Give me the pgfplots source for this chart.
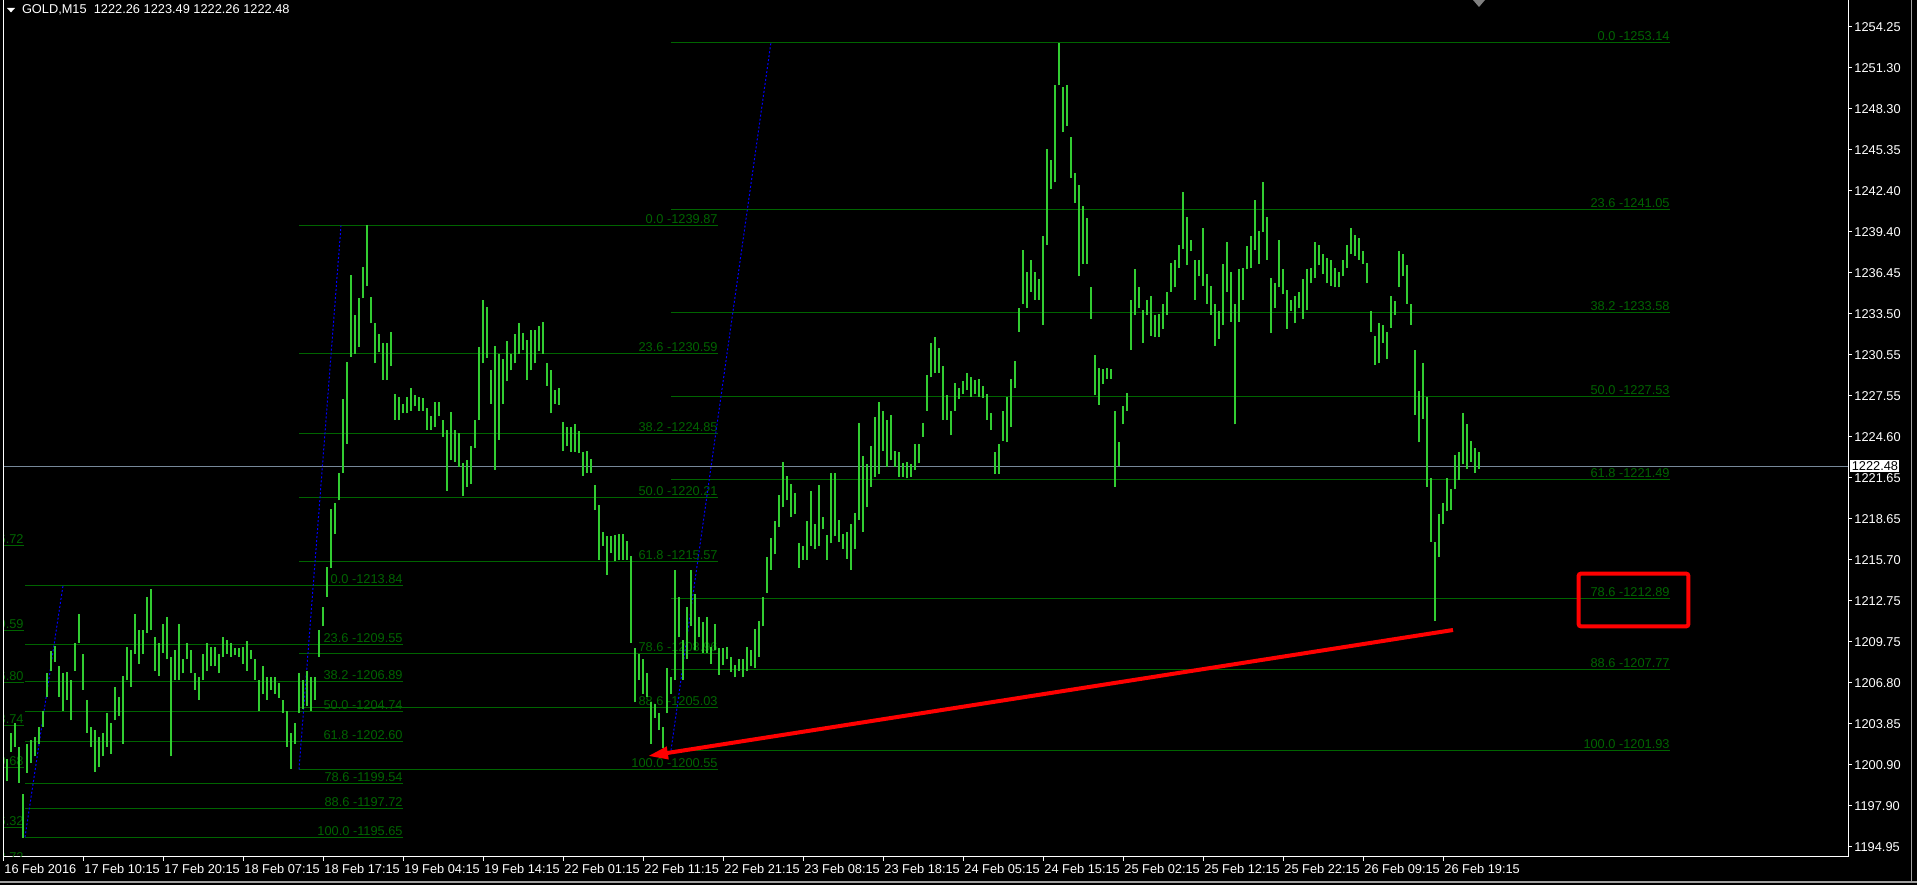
\documentclass[border=0pt]{standalone}
\usepackage{pgfplots}
\pgfplotsset{compat=1.18}
\usepackage{pgfplotstable}
\usepackage{fontspec}
\setmainfont{Liberation Sans}
\usetikzlibrary{arrows.meta}
\definecolor{barcol}{RGB}{50,205,50}
\definecolor{fibcol}{RGB}{0,100,0}
\definecolor{curcol}{RGB}{119,136,153}
\definecolor{dotblue}{RGB}{0,0,255}
\definecolor{framegray}{RGB}{160,160,160}
\newcommand\mt{\fontsize{6.4}{7.7}\selectfont}

\pgfplotstableread{
X lo hi
3 1199.5 1201.0
7 1199.7 1201.3
11 1201.8 1203.2
15 1202.2 1203.9
19 1199.6 1202.2
23 1195.6 1198.8
27 1200.3 1202.4
31 1201.0 1202.7
35 1201.5 1202.9
39 1202.4 1203.6
43 1203.6 1204.8
47 1205.8 1207.5
51 1207.7 1209.1
55 1208.3 1209.5
59 1205.8 1208.0
63 1204.8 1207.5
67 1205.6 1207.6
71 1204.1 1207.0
75 1207.7 1209.7
79 1209.7 1211.8
83 1206.3 1208.9
87 1203.2 1205.6
91 1202.2 1203.6
95 1200.4 1203.4
99 1200.7 1202.9
103 1201.5 1203.2
107 1202.2 1204.6
111 1201.7 1203.9
115 1204.1 1206.5
119 1204.4 1205.8
123 1202.4 1207.3
127 1207.0 1209.4
131 1206.5 1209.2
135 1208.9 1211.8
139 1208.2 1210.6
143 1208.9 1210.6
147 1210.4 1213.0
151 1210.6 1213.6
155 1207.7 1210.1
159 1207.3 1209.7
163 1209.0 1211.1
167 1208.5 1211.6
171 1201.5 1208.7
175 1207.0 1209.2
179 1207.0 1211.1
183 1207.5 1208.5
187 1208.5 1209.7
191 1207.5 1209.2
195 1206.3 1207.5
199 1205.6 1207.2
203 1207.0 1208.9
207 1207.7 1209.7
211 1208.0 1209.4
215 1208.0 1209.4
219 1207.5 1208.9
223 1208.7 1210.1
227 1208.9 1209.9
231 1208.7 1209.7
235 1208.8 1209.3
239 1208.7 1209.3
243 1208.2 1209.4
247 1207.7 1209.8
251 1208.5 1209.2
255 1207.0 1208.5
259 1204.8 1207.0
263 1206.0 1208.0
267 1205.6 1207.2
271 1206.3 1207.2
275 1206.0 1207.2
279 1205.7 1206.8
283 1204.6 1205.6
287 1202.2 1204.8
291 1200.6 1203.2
295 1202.4 1203.9
299 1204.6 1207.5
303 1204.9 1207.0
307 1205.1 1207.7
311 1204.8 1207.2
315 1205.6 1207.2
319 1208.7 1210.6
323 1210.9 1212.3
327 1213.0 1215.2
331 1215.1 1219.4
335 1217.6 1219.8
339 1220.0 1222.0
343 1222.0 1227.3
347 1224.1 1230.0
351 1230.4 1236.3
355 1230.6 1233.4
359 1231.1 1234.6
363 1234.6 1236.9
367 1235.5 1239.9
371 1232.8 1234.7
375 1229.9 1232.8
379 1230.7 1232.0
383 1228.7 1231.4
387 1228.7 1231.4
391 1229.7 1232.2
395 1225.8 1227.7
399 1225.8 1227.5
403 1226.3 1227.0
407 1226.3 1227.5
411 1226.5 1228.1
415 1226.8 1227.6
419 1226.5 1227.5
423 1226.5 1227.4
427 1225.1 1226.7
431 1225.1 1226.1
435 1225.3 1227.1
439 1226.1 1227.1
443 1224.6 1225.8
447 1220.7 1225.1
451 1222.9 1226.4
455 1222.8 1225.1
459 1222.4 1224.9
463 1220.3 1222.7
467 1221.0 1222.9
471 1221.2 1223.9
475 1223.8 1225.8
479 1225.8 1231.1
483 1229.9 1234.5
487 1230.3 1234.0
491 1227.0 1229.4
495 1222.2 1231.2
499 1224.4 1230.6
503 1227.0 1230.2
507 1228.6 1231.5
511 1229.4 1230.6
515 1229.9 1232.0
519 1230.6 1232.8
523 1230.9 1232.1
527 1228.7 1231.6
531 1229.4 1232.3
535 1229.9 1232.3
539 1230.8 1232.6
543 1230.6 1232.9
547 1228.3 1229.9
551 1226.3 1229.4
555 1227.0 1228.0
559 1226.9 1228.1
563 1223.6 1225.7
567 1223.9 1225.3
571 1223.5 1225.3
575 1223.5 1225.5
579 1223.4 1225.0
583 1221.8 1223.5
587 1222.0 1223.6
591 1222.0 1223.0
595 1219.3 1221.1
599 1215.7 1219.7
603 1216.7 1217.7
607 1214.6 1217.4
611 1216.2 1217.4
615 1215.6 1217.5
619 1215.7 1217.6
623 1215.7 1217.6
627 1215.7 1217.1
631 1209.7 1216.0
635 1205.4 1209.3
639 1207.0 1208.9
643 1206.0 1208.5
647 1205.8 1207.5
651 1202.4 1205.4
655 1204.3 1205.3
659 1203.4 1204.6
663 1202.1 1203.6
667 1204.6 1207.9
671 1206.0 1207.2
675 1207.0 1215.0
679 1210.1 1213.0
683 1207.0 1209.9
687 1208.5 1212.3
691 1210.9 1215.0
695 1209.2 1213.2
699 1210.1 1211.6
703 1209.0 1211.2
707 1209.0 1211.6
711 1208.2 1209.4
715 1209.2 1211.1
719 1207.4 1209.3
723 1208.1 1209.3
727 1208.5 1209.4
731 1207.6 1208.7
735 1207.2 1208.1
739 1207.7 1208.5
743 1207.2 1208.5
747 1207.7 1209.4
751 1208.0 1209.2
755 1207.9 1210.7
759 1208.7 1211.3
763 1210.9 1213.0
767 1213.3 1215.9
771 1215.0 1217.3
775 1216.1 1218.5
779 1218.1 1220.4
783 1219.5 1222.8
787 1220.0 1221.8
791 1218.8 1221.2
795 1219.0 1220.5
799 1215.1 1216.9
803 1215.7 1216.7
807 1215.7 1218.5
811 1216.7 1220.7
815 1216.5 1218.3
819 1216.7 1221.1
823 1217.9 1218.8
827 1215.7 1217.5
831 1216.9 1222.0
835 1217.4 1222.0
839 1217.0 1218.6
843 1216.5 1217.6
847 1215.8 1217.7
851 1215.0 1218.3
855 1216.5 1219.1
859 1218.6 1225.6
863 1217.7 1223.2
867 1219.5 1222.6
871 1221.0 1223.9
875 1221.7 1226.0
879 1221.9 1227.1
883 1223.6 1226.5
887 1222.4 1225.8
891 1222.9 1226.2
895 1222.4 1223.6
899 1221.7 1223.5
903 1221.7 1222.7
907 1221.6 1222.8
911 1221.7 1222.6
915 1222.2 1224.1
919 1222.7 1224.1
923 1224.6 1225.6
927 1226.5 1229.1
931 1228.9 1231.4
935 1229.2 1231.8
939 1229.2 1231.0
943 1225.8 1229.7
947 1225.8 1227.6
951 1224.7 1226.5
955 1226.5 1228.5
959 1227.3 1228.1
963 1227.7 1228.6
967 1228.0 1229.2
971 1227.5 1228.9
975 1227.7 1228.7
979 1227.5 1228.8
983 1227.4 1228.3
987 1225.8 1227.7
991 1225.1 1226.3
995 1221.9 1223.5
999 1221.9 1224.1
1003 1224.3 1226.5
1007 1224.2 1227.5
1011 1225.3 1228.8
1015 1228.1 1230.1
1019 1232.2 1233.9
1023 1234.2 1238.1
1027 1233.9 1236.5
1031 1235.1 1237.4
1035 1234.5 1236.5
1039 1234.5 1236.0
1043 1232.7 1239.1
1047 1238.5 1245.4
1051 1242.5 1244.6
1055 1243.0 1250.0
1059 1250.0 1253.1
1063 1246.6 1249.9
1067 1247.1 1250.0
1071 1243.3 1246.3
1075 1241.5 1243.7
1079 1236.2 1242.8
1083 1237.1 1241.3
1087 1237.1 1240.4
1091 1233.1 1235.4
1095 1227.6 1230.5
1099 1226.9 1229.6
1103 1228.4 1229.5
1107 1228.8 1229.6
1111 1228.8 1229.5
1115 1221.0 1226.5
1119 1222.5 1224.2
1123 1225.5 1226.8
1127 1226.5 1227.8
1131 1230.9 1234.5
1135 1233.4 1236.7
1139 1233.9 1235.4
1143 1231.4 1233.8
1147 1233.4 1234.5
1151 1231.9 1234.8
1155 1231.8 1233.4
1159 1231.8 1233.5
1163 1232.4 1234.2
1167 1233.4 1235.1
1171 1235.1 1237.2
1175 1235.4 1237.4
1179 1236.8 1238.5
1183 1238.2 1242.3
1187 1237.0 1240.5
1191 1238.0 1238.8
1195 1234.5 1237.4
1199 1236.2 1237.4
1203 1235.5 1239.7
1207 1234.2 1236.4
1211 1233.4 1235.5
1215 1231.2 1234.2
1219 1231.7 1233.7
1223 1232.7 1237.1
1227 1235.1 1238.7
1231 1232.9 1236.5
1235 1225.5 1234.2
1239 1232.9 1236.7
1243 1234.5 1236.8
1247 1236.7 1238.4
1251 1236.8 1239.1
1255 1238.1 1241.7
1259 1237.1 1239.5
1263 1239.4 1243.0
1267 1237.4 1240.5
1271 1232.1 1236.1
1275 1233.9 1235.7
1279 1235.4 1238.8
1283 1234.9 1236.7
1287 1232.4 1235.2
1291 1233.7 1234.5
1295 1232.8 1234.8
1299 1233.9 1235.1
1303 1233.1 1236.0
1307 1233.8 1236.7
1311 1235.7 1236.8
1315 1236.1 1238.7
1319 1237.0 1238.5
1323 1236.4 1237.8
1327 1235.7 1237.5
1331 1235.5 1237.4
1335 1235.4 1236.8
1339 1235.4 1236.5
1343 1236.2 1237.4
1347 1236.8 1238.5
1351 1237.8 1239.7
1355 1237.7 1239.2
1359 1237.4 1239.0
1363 1237.1 1238.0
1367 1235.7 1237.2
1371 1232.2 1233.7
1375 1229.8 1231.9
1379 1229.9 1232.8
1383 1231.4 1232.7
1387 1230.2 1232.2
1391 1232.5 1234.8
1395 1233.4 1234.4
1399 1235.4 1238.0
1403 1236.2 1237.8
1407 1234.2 1237.0
1411 1232.7 1234.2
1415 1226.2 1230.9
1419 1224.2 1227.9
1423 1225.9 1229.9
1427 1221.0 1227.5
1431 1217.0 1221.6
1435 1211.3 1217.0
1439 1215.9 1219.0
1443 1218.3 1219.8
1447 1219.2 1221.6
1451 1219.3 1220.8
1455 1220.8 1223.3
1459 1221.5 1223.5
1463 1222.6 1226.3
1467 1222.3 1225.5
1471 1222.8 1224.3
1475 1222.0 1223.8
1479 1222.26 1223.49
}\bars

\newcommand\fib[4]{%
  \addplot[fibcol, line width=0.5pt, forget plot] coordinates {(#1,#3) (#2,#3)};
  \node[anchor=base east, inner sep=0pt, text=fibcol, font=\mt, yshift=1pt] at (axis cs:#2,#3) {#4};
}

\begin{document}
\begin{tikzpicture}
\fill[black] (0,0) rectangle (958.5pt,442.5pt);
\begin{axis}[
  at={(1.5pt,14.15pt)}, anchor=south west,
  scale only axis, width=922.5pt, height=428.35pt,
  xmin=3, xmax=1848, ymin=1194.24, ymax=1256.18,
  axis x line*=bottom, axis y line*=right,
  axis line style={white, line width=0.5pt},
  tick style={white, line width=0.5pt},
  tick align=outside,
  major tick length=2pt,
  xtick={3,83,163,243,323,403,483,563,643,723,803,883,963,1043,1123,1203,1283,1363,1443},
  xticklabels={16 Feb 2016,17 Feb 10:15,17 Feb 20:15,18 Feb 07:15,18 Feb 17:15,19 Feb 04:15,19 Feb 14:15,22 Feb 01:15,22 Feb 11:15,22 Feb 21:15,23 Feb 08:15,23 Feb 18:15,24 Feb 05:15,24 Feb 15:15,25 Feb 02:15,25 Feb 12:15,25 Feb 22:15,26 Feb 09:15,26 Feb 19:15},
  ytick={1194.95,1197.915,1200.88,1203.845,1206.81,1209.775,1212.74,1215.705,1218.67,1221.635,1224.6,1227.565,1230.53,1233.495,1236.46,1239.425,1242.39,1245.355,1248.32,1251.285,1254.25},
  yticklabels={1194.95,1197.90,1200.90,1203.85,1206.80,1209.75,1212.75,1215.70,1218.65,1221.65,1224.60,1227.55,1230.55,1233.50,1236.45,1239.40,1242.40,1245.35,1248.30,1251.30,1254.25},
  xticklabel style={font=\mt, text=white, anchor=north west, inner sep=0pt, xshift=0.5pt, yshift=-1.5pt},
  yticklabel style={font=\mt, text=white, anchor=west, inner sep=0pt, xshift=1pt},
  clip=true,
]
% far-left fibo (labels cut off by the frame)
\fib{-60}{24}{1216.72}{0.0 -1216.72}
\fib{-60}{24}{1210.59}{23.6 -1210.59}
\fib{-60}{24}{1206.80}{38.2 -1206.80}
\fib{-60}{24}{1203.74}{50.0 -1203.74}
\fib{-60}{24}{1200.68}{61.8 -1200.68}
\fib{-60}{24}{1196.32}{78.6 -1196.32}
\fib{-60}{24}{1193.72}{88.6 -1193.72}
% left fibo
\fib{25}{403}{1213.84}{0.0 -1213.84}
\fib{25}{403}{1209.55}{23.6 -1209.55}
\fib{25}{403}{1206.89}{38.2 -1206.89}
\fib{25}{403}{1204.74}{50.0 -1204.74}
\fib{25}{403}{1202.60}{61.8 -1202.60}
\fib{25}{403}{1199.54}{78.6 -1199.54}
\fib{25}{403}{1197.72}{88.6 -1197.72}
\fib{25}{403}{1195.65}{100.0 -1195.65}
% middle fibo
\fib{299}{718}{1239.87}{0.0 -1239.87}
\fib{299}{718}{1230.59}{23.6 -1230.59}
\fib{299}{718}{1224.85}{38.2 -1224.85}
\fib{299}{718}{1220.21}{50.0 -1220.21}
\fib{299}{718}{1215.57}{61.8 -1215.57}
\fib{299}{718}{1208.96}{78.6 -1208.96}
\fib{299}{718}{1205.03}{88.6 -1205.03}
\fib{299}{718}{1200.55}{100.0 -1200.55}
% right fibo
\fib{671}{1670}{1253.14}{0.0 -1253.14}
\fib{671}{1670}{1241.05}{23.6 -1241.05}
\fib{671}{1670}{1233.58}{38.2 -1233.58}
\fib{671}{1670}{1227.53}{50.0 -1227.53}
\fib{671}{1670}{1221.49}{61.8 -1221.49}
\fib{671}{1670}{1212.89}{78.6 -1212.89}
\fib{671}{1670}{1207.77}{88.6 -1207.77}
\fib{671}{1670}{1201.93}{100.0 -1201.93}
% current price line
\addplot[curcol, line width=0.5pt, forget plot] coordinates {(3,1222.48) (1848,1222.48)};
% fibo trend lines
\addplot[dotblue, line width=0.5pt, dash pattern=on 1pt off 1pt, forget plot] coordinates {(25,1195.65) (63,1213.84)};
\addplot[dotblue, line width=0.5pt, dash pattern=on 1pt off 1pt, forget plot] coordinates {(299,1200.55) (341,1239.87)};
\addplot[dotblue, line width=0.5pt, dash pattern=on 1pt off 1pt, forget plot] coordinates {(671,1201.93) (771,1253.14)};
% price bars
\addplot[draw=none, mark=none, forget plot,
  error bars/.cd, y dir=plus, y explicit, error mark=none,
  error bar style={draw=barcol, solid, line width=0.9pt}]
  table[x=X, y=lo, y error plus expr=\thisrow{hi}-\thisrow{lo}] {\bars};
% red annotations
\addplot[red, line width=2pt, arrows={Triangle[length=10pt,width=6pt]-}, forget plot] coordinates {(648,1201.52) (1453,1210.63)};
\draw[red, line width=2pt, rounded corners=1pt] (axis cs:1578.7,1214.70) rectangle (axis cs:1688.3,1210.90);
\coordinate (LB) at (rel axis cs:0,0);
\coordinate (LT) at (rel axis cs:0,1);
\coordinate (CP) at (axis cs:1848,1222.48);
\end{axis}
\draw[white, line width=0.5pt] (LB) -- (LT);
\node[fill=white, text=black, font=\mt, inner sep=0.7pt, anchor=west] at ([xshift=1pt]CP) {1222.48};
\fill[white] (3.5pt,438.5pt) -- (7.5pt,438.5pt) -- (5.5pt,436.3pt) -- cycle;
\node[anchor=base west, inner sep=0pt, text=white, font=\mt] at (10.8pt,435.6pt) {GOLD,M15\ \ 1222.26 1223.49 1222.26 1222.48};
\fill[gray] (736.5pt,442.5pt) -- (742.5pt,442.5pt) -- (739.5pt,439pt) -- cycle;
\draw[framegray, line width=0.7pt] (955.6pt,1.6pt) -- (955.6pt,442.5pt);
\draw[framegray, line width=0.7pt] (0,1.6pt) -- (958.5pt,1.6pt);
\pgfresetboundingbox
\useasboundingbox (0,0) rectangle (958.5pt,442.5pt);
\end{tikzpicture}
\end{document}
